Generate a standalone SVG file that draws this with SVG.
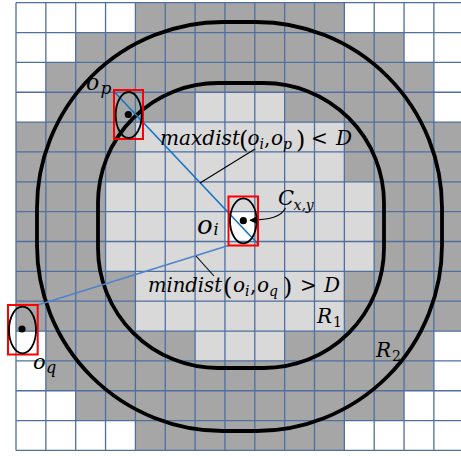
<svg xmlns="http://www.w3.org/2000/svg" width="461" height="456" viewBox="0 0 461 456">
<defs>
<style>
.dk{fill:#a6a6a6}
.lt{fill:#d9d9d9}
.wh{fill:#ffffff}
.grid{fill:none;stroke:#4f6f9f;stroke-width:1.3}
.ring{fill:none;stroke:#000;stroke-width:3.8}
.sel{fill:none;stroke:#ff0000;stroke-width:2}
.obj{fill:none;stroke:#000;stroke-width:1.8}
.dot{fill:#000}
.t{font-family:"DejaVu Serif","Liberation Serif",serif;font-style:italic;fill:#000}
.u{font-family:"DejaVu Serif","Liberation Serif",serif;font-style:normal;fill:#000}
.lead{fill:none;stroke:#000;stroke-width:1.1}
</style>
<marker id="ah" viewBox="0 0 10 10" refX="9" refY="5" markerWidth="9" markerHeight="7" markerUnits="userSpaceOnUse" orient="auto">
<path d="M0,0 L10,5 L0,10 z" fill="#000"/>
</marker>
</defs>
<rect width="461" height="456" fill="#fff"/>
<g id="grid" transform="translate(16,2.7) scale(29.85)">
<rect class="dk" x="0" y="0" width="15" height="15"/>
<rect class="lt" x="6" y="3" width="3" height="1"/>
<rect class="lt" x="4" y="4" width="7" height="2"/>
<rect class="lt" x="3" y="6" width="9" height="3"/>
<rect class="lt" x="4" y="9" width="7" height="2"/>
<rect class="lt" x="6" y="11" width="3" height="1"/>
<rect class="wh" x="7" y="7" width="1" height="1"/>
<rect class="wh" x="0" y="0" width="4" height="1"/>
<rect class="wh" x="11" y="0" width="4" height="1"/>
<rect class="wh" x="0" y="1" width="2" height="1"/>
<rect class="wh" x="13" y="1" width="2" height="1"/>
<rect class="wh" x="0" y="2" width="1" height="2"/>
<rect class="wh" x="14" y="2" width="1" height="2"/>
<rect class="wh" x="0" y="11" width="1" height="2"/>
<rect class="wh" x="14" y="11" width="1" height="2"/>
<rect class="wh" x="0" y="13" width="2" height="1"/>
<rect class="wh" x="13" y="13" width="2" height="1"/>
<rect class="wh" x="0" y="14" width="4" height="1"/>
<rect class="wh" x="11" y="14" width="4" height="1"/>
<path class="grid" vector-effect="non-scaling-stroke" d="M0,0V15M1,0V15M2,0V15M3,0V15M4,0V15M5,0V15M6,0V15M7,0V15M8,0V15M9,0V15M10,0V15M11,0V15M12,0V15M13,0V15M14,0V15M15,0V15M0,0H15M0,1H15M0,2H15M0,3H15M0,4H15M0,5H15M0,6H15M0,7H15M0,8H15M0,9H15M0,10H15M0,11H15M0,12H15M0,13H15M0,14H15M0,15H15"/>
</g>
<g id="R2">
<rect class="ring" x="37" y="22" width="405" height="409" rx="186" ry="186"/>
<text class="t" x="376" y="357" font-size="20">R</text><text class="u" x="392" y="361" font-size="14">2</text>
</g>
<g id="R1">
<rect class="ring" x="98" y="83" width="286" height="285" rx="120" ry="120"/>
<text class="t" x="317" y="323" font-size="20">R</text><text class="u" x="333" y="327" font-size="14">1</text>
</g>
<g id="connectors">
<line x1="113.5" y1="91" x2="257.5" y2="243.5" stroke="#1474c4" stroke-width="1.6"/>
<line x1="37.7" y1="305" x2="228.5" y2="245.5" stroke="#4f83cc" stroke-width="1.6"/>
<line class="lead" x1="255" y1="149" x2="200" y2="183"/>
<line class="lead" x1="196" y1="256" x2="214" y2="276"/>
<path class="lead" d="M285.5,208 C281,217 270,219.8 250,220.3" stroke-width="1.5" marker-end="url(#ah)"/>
</g>
<g id="op">
<rect class="sel" x="114" y="90" width="29" height="49"/>
<ellipse class="obj" cx="128.7" cy="115" rx="13" ry="23"/>
<circle class="dot" cx="128.3" cy="114.5" r="3.6"/>
<text class="t" x="86" y="90" font-size="22">o</text><text class="t" x="100.5" y="94" font-size="17">p</text>
</g>
<g id="oi">
<rect class="sel" x="228.5" y="196.5" width="29.5" height="49"/>
<ellipse class="obj" cx="243.3" cy="220.8" rx="13.3" ry="22.5"/>
<circle class="dot" cx="243.3" cy="220.7" r="3.6"/>
<text class="t" x="197" y="234" font-size="26">o</text><text class="t" x="213.5" y="235" font-size="16">i</text>
</g>
<g id="oq">
<rect class="sel" x="8" y="305" width="29.7" height="49.5"/>
<ellipse class="obj" cx="22.5" cy="330" rx="13.5" ry="23.3"/>
<circle class="dot" cx="22" cy="329" r="3.6"/>
<text class="t" x="33" y="369" font-size="21">o</text><text class="t" x="46" y="373" font-size="16">q</text>
</g>
<g id="cxy">
<text class="t" x="278" y="205" font-size="21">C</text><text class="t" x="293.5" y="210" font-size="14">x,y</text>
</g>
<g id="maxdist">
<text class="t" x="160" y="145" font-size="20" textLength="80" lengthAdjust="spacingAndGlyphs">maxdist</text>
<text class="u" x="239" y="148" font-size="24">(</text>
<text class="t" x="247.5" y="145" font-size="20">o</text><text class="t" x="259.5" y="149" font-size="14">i</text>
<text class="u" x="264" y="145" font-size="20">,</text>
<text class="t" x="271" y="145" font-size="20">o</text><text class="t" x="283" y="149" font-size="14">p</text>
<text class="u" x="296" y="148" font-size="24">)</text>
<text class="u" x="311" y="145" font-size="20">&lt;</text>
<text class="t" x="336" y="145" font-size="20">D</text>
</g>
<g id="mindist">
<text class="t" x="148" y="292" font-size="20" textLength="74" lengthAdjust="spacingAndGlyphs">mindist</text>
<text class="u" x="223" y="295" font-size="24">(</text>
<text class="t" x="233" y="292" font-size="20">o</text><text class="t" x="245" y="296" font-size="14">i</text>
<text class="u" x="250" y="292" font-size="20">,</text>
<text class="t" x="257" y="292" font-size="20">o</text><text class="t" x="269" y="296" font-size="14">q</text>
<text class="u" x="283" y="295" font-size="24">)</text>
<text class="u" x="300" y="292" font-size="20">&gt;</text>
<text class="t" x="324" y="292" font-size="20">D</text>
</g>
</svg>
